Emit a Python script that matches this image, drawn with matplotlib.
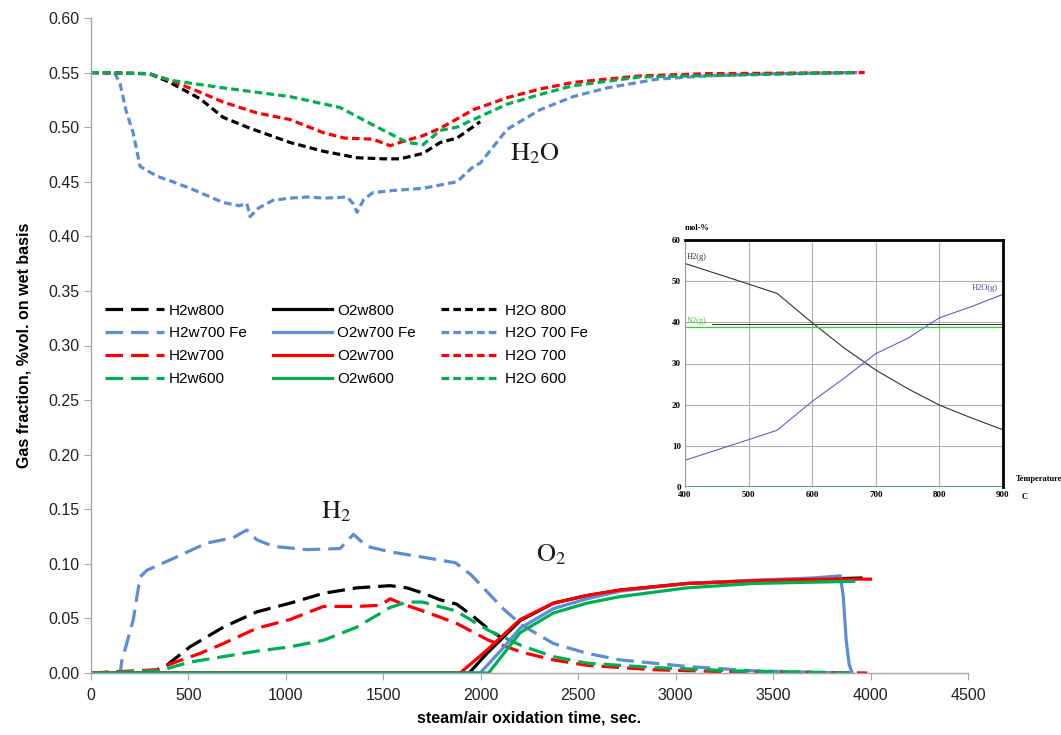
import matplotlib
matplotlib.use("Agg")
import matplotlib.pyplot as plt
import numpy as np

plt.rcParams['font.family'] = ['Liberation Sans', 'DejaVu Sans']
plt.rcParams['mathtext.fontset'] = 'stix'

# ---------------- main chart data ----------------
# H2O (steam) fraction curves
h2o800_x = [0, 300, 405, 560, 678, 816, 1021, 1190, 1365, 1500, 1586, 1704, 1792, 1878, 1997]
h2o800_y = [0.55, 0.549, 0.541, 0.526, 0.509, 0.499, 0.486, 0.478, 0.472, 0.471, 0.471, 0.476, 0.486, 0.490, 0.505]

h2o700fe_x = [0, 120, 149, 180, 216, 252, 339, 420, 508, 600, 678, 760, 800, 816, 860, 934, 1020, 1108, 1200, 1314,
              1345, 1365, 1400, 1447, 1550, 1704, 1878, 1962, 1997, 2135, 2305, 2474, 2649, 2905, 3162, 3501, 3932]
h2o700fe_y = [0.55, 0.55, 0.54, 0.515, 0.495, 0.464, 0.455, 0.450, 0.444, 0.437, 0.431, 0.428, 0.430, 0.418, 0.426, 0.433,
              0.435, 0.436, 0.435, 0.436, 0.430, 0.422, 0.434, 0.440, 0.442, 0.444, 0.450, 0.464, 0.467, 0.498, 0.516,
              0.528, 0.536, 0.544, 0.547, 0.549, 0.550]

h2o700_x = [0, 300, 405, 560, 678, 852, 1021, 1191, 1300, 1447, 1535, 1601, 1700, 1792, 1962, 2135, 2305, 2474, 2818, 3160, 3970]
h2o700_y = [0.55, 0.549, 0.543, 0.532, 0.523, 0.513, 0.507, 0.495, 0.490, 0.489, 0.483, 0.487, 0.492, 0.499, 0.516, 0.527,
            0.535, 0.541, 0.547, 0.549, 0.550]

h2o600_x = [0, 300, 405, 678, 1021, 1278, 1447, 1622, 1704, 1792, 1878, 1962, 2135, 2305, 2474, 2818, 3930]
h2o600_y = [0.55, 0.549, 0.543, 0.536, 0.528, 0.518, 0.502, 0.486, 0.484, 0.497, 0.500, 0.507, 0.521, 0.530, 0.538, 0.546, 0.550]

# H2 fraction curves
h2w800_x = [0, 330, 388, 508, 679, 851, 1022, 1193, 1364, 1535, 1621, 1706, 1792, 1877, 1960, 2048, 2100]
h2w800_y = [0.0, 0.002, 0.007, 0.024, 0.042, 0.056, 0.064, 0.073, 0.078, 0.080, 0.078, 0.073, 0.067, 0.063, 0.052, 0.039, 0.033]

h2w700fe_x = [0, 150, 157, 217, 252, 286, 423, 594, 730, 799, 851, 936, 1107, 1278, 1347, 1415, 1535, 1706, 1870, 1950,
              2040, 2120, 2210, 2373, 2546, 2716, 3059, 3398, 3896]
h2w700fe_y = [0.0, 0.0, 0.010, 0.049, 0.088, 0.094, 0.105, 0.119, 0.124, 0.131, 0.122, 0.116, 0.113, 0.114, 0.127, 0.116,
              0.111, 0.106, 0.101, 0.090, 0.073, 0.058, 0.044, 0.027, 0.018, 0.012, 0.006, 0.002, 0.0]

h2w700_x = [0, 337, 388, 560, 679, 851, 1022, 1107, 1193, 1364, 1484, 1535, 1587, 1700, 1870, 2040, 2210, 2373, 2546, 2885,
            3300, 3984]
h2w700_y = [0.0, 0.003, 0.007, 0.018, 0.027, 0.041, 0.049, 0.055, 0.061, 0.061, 0.062, 0.068, 0.064, 0.057, 0.046, 0.030,
            0.019, 0.012, 0.007, 0.003, 0.001, 0.0]

h2w600_x = [0, 337, 388, 508, 679, 851, 1022, 1193, 1364, 1535, 1621, 1700, 1870, 2040, 2210, 2373, 2546, 2885, 3300, 3896]
h2w600_y = [0.0, 0.002, 0.004, 0.010, 0.015, 0.020, 0.024, 0.030, 0.042, 0.060, 0.065, 0.065, 0.057, 0.039, 0.025, 0.015,
            0.009, 0.005, 0.002, 0.0]

# O2 fraction curves
o2w800_x = [0, 1940, 2032, 2202, 2373, 2545, 2716, 3059, 3398, 3742, 3950]
o2w800_y = [0.0, 0.0, 0.018, 0.048, 0.064, 0.071, 0.076, 0.082, 0.0845, 0.086, 0.087]

o2w700fe_x = [0, 1997, 2100, 2202, 2373, 2545, 2716, 3059, 3398, 3700, 3845, 3860, 3875, 3890, 3906]
o2w700fe_y = [0.0, 0.0, 0.020, 0.041, 0.059, 0.068, 0.075, 0.082, 0.085, 0.087, 0.089, 0.070, 0.030, 0.008, 0.0]

o2w700_x = [0, 1894, 2032, 2202, 2373, 2545, 2716, 3059, 3398, 3742, 3999]
o2w700_y = [0.0, 0.0, 0.021, 0.049, 0.064, 0.071, 0.076, 0.082, 0.0845, 0.086, 0.086]

o2w600_x = [0, 2040, 2110, 2202, 2373, 2545, 2716, 3059, 3398, 3914]
o2w600_y = [0.0, 0.0, 0.016, 0.037, 0.055, 0.064, 0.070, 0.078, 0.082, 0.084]

# ---------------- inset data ----------------
inset_T = [400, 500, 545, 600, 650, 700, 750, 800, 850, 900]
inset_h2 = [54.3, 49.3, 47.0, 39.9, 33.8, 28.4, 23.9, 19.9, 16.8, 13.9]
inset_h2o = [6.5, 11.5, 13.8, 20.8, 26.4, 32.4, 36.1, 41.1, 43.8, 46.8]
inset_n2 = 38.9
inset_xticks = [400, 500, 600, 700, 800, 900]
inset_yticks = [0, 10, 20, 30, 40, 50, 60]

# ---------------- styles ----------------
C_BLACK = '#000000'
C_BLUE = '#5B8ED6'
C_RED = '#FF0000'
C_GREEN = '#00B050'
LW = 2.3
LONG_DASH = (0, (5.5, 2.5))
SHORT_DASH = (0, (2.4, 1.3))

fig = plt.figure(figsize=(10.61, 7.35), dpi=100)
ax = fig.add_axes([91 / 1061, 1 - 673 / 735, (968 - 91) / 1061, (673 - 18) / 735])

lines = {}
lines['H2w800'] = ax.plot(h2w800_x, h2w800_y, color=C_BLACK, lw=LW, ls=LONG_DASH)[0]
lines['H2w700 Fe'] = ax.plot(h2w700fe_x, h2w700fe_y, color=C_BLUE, lw=LW, ls=LONG_DASH)[0]
lines['H2w700'] = ax.plot(h2w700_x, h2w700_y, color=C_RED, lw=LW, ls=LONG_DASH)[0]
lines['H2w600'] = ax.plot(h2w600_x, h2w600_y, color=C_GREEN, lw=LW, ls=LONG_DASH)[0]

lines['O2w800'] = ax.plot(o2w800_x, o2w800_y, color=C_BLACK, lw=LW, ls='-')[0]
lines['O2w700 Fe'] = ax.plot(o2w700fe_x, o2w700fe_y, color=C_BLUE, lw=LW, ls='-')[0]
lines['O2w700'] = ax.plot(o2w700_x, o2w700_y, color=C_RED, lw=LW, ls='-')[0]
lines['O2w600'] = ax.plot(o2w600_x, o2w600_y, color=C_GREEN, lw=LW, ls='-')[0]

lines['H2O 800'] = ax.plot(h2o800_x, h2o800_y, color=C_BLACK, lw=LW, ls=SHORT_DASH)[0]
lines['H2O 700 Fe'] = ax.plot(h2o700fe_x, h2o700fe_y, color=C_BLUE, lw=LW, ls=SHORT_DASH)[0]
lines['H2O 700'] = ax.plot(h2o700_x, h2o700_y, color=C_RED, lw=LW, ls=SHORT_DASH)[0]
lines['H2O 600'] = ax.plot(h2o600_x, h2o600_y, color=C_GREEN, lw=LW, ls=SHORT_DASH)[0]

ax.set_xlim(0, 4500)
ax.set_ylim(0, 0.60)
ax.set_xticks(np.arange(0, 4501, 500))
ax.set_yticks(np.arange(0, 0.601, 0.05))
ax.yaxis.set_major_formatter(matplotlib.ticker.FormatStrFormatter('%.2f'))
for s in ['top', 'right']:
    ax.spines[s].set_visible(False)
for s in ['left', 'bottom']:
    ax.spines[s].set_color('#A6A6A6')
    ax.spines[s].set_linewidth(1.0)
ax.tick_params(axis='both', direction='out', length=5, color='#A6A6A6', labelsize=11.5, labelcolor='#222222')
ax.tick_params(axis='x', pad=6)

ax.set_xlabel('steam/air oxidation time, sec.', fontsize=11.5, fontweight='bold', labelpad=5)
ax.set_ylabel('Gas fraction, %vol. on wet basis', fontsize=11.5, fontweight='bold', labelpad=12)

# legend arranged column-wise: column1 = H2, column2 = O2, column3 = H2O
col_order = ['H2w800', 'H2w700 Fe', 'H2w700', 'H2w600',
             'O2w800', 'O2w700 Fe', 'O2w700', 'O2w600',
             'H2O 800', 'H2O 700 Fe', 'H2O 700', 'H2O 600']
leg = ax.legend([lines[k] for k in col_order], col_order, ncol=3, loc='upper left',
                bbox_to_anchor=(0.0005, 0.585), frameon=False, fontsize=11,
                handlelength=3.85, handletextpad=0.33, columnspacing=1.7, labelspacing=0.58)

ax.text(2280, 0.476, r'$\mathrm{H_2O}$', fontsize=19, ha='center', va='center', color='#1a1a1a')
ax.text(1260, 0.148, r'$\mathrm{H_2}$', fontsize=19, ha='center', va='center', color='#1a1a1a')
ax.text(2360, 0.108, r'$\mathrm{O_2}$', fontsize=19, ha='center', va='center', color='#1a1a1a')

# ---------------- inset ----------------
ia = fig.add_axes([685 / 1061, 1 - 487 / 735, (1003 - 685) / 1061, (487 - 240) / 735])
ia.set_xlim(400, 900)
ia.set_ylim(0, 60)
ia.set_xticks(inset_xticks)
ia.set_yticks(inset_yticks)
ia.grid(True, color='#B0B0B0', lw=0.8)
ia.set_axisbelow(True)
ia.plot(inset_T, inset_h2, color='#333333', lw=0.8)
ia.plot(inset_T, inset_h2o, color='#6A5ACD', lw=0.8)
ia.axhline(inset_n2, color='#33CC33', lw=0.9)
ia.plot([442, 900], [39.7, 39.7], color='#333333', lw=0.7)
ia.axhline(0, color='#2A9D9D', lw=2.0)
ia.tick_params(length=0, labelsize=6.5, pad=3)
for lab in ia.get_xticklabels() + ia.get_yticklabels():
    lab.set_fontfamily('Liberation Serif')
    lab.set_fontweight('bold')
ia.spines['left'].set_color('#999999')
ia.spines['left'].set_linewidth(0.8)
ia.spines['bottom'].set_visible(False)
ia.spines['top'].set_color('black')
ia.spines['top'].set_linewidth(2.0)
ia.spines['right'].set_color('black')
ia.spines['right'].set_linewidth(2.0)
ia.text(402, 55.5, 'H2(g)', fontsize=6, family='Liberation Serif', color='#333333')
ia.text(851, 47.8, 'H2O(g)', fontsize=6, family='Liberation Serif', color='#4B3FB0')
ia.text(402, 39.8, 'N2(g)', fontsize=6, family='Liberation Serif', color='#33CC33')
ia.text(400, 62, 'mol-%', fontsize=6, family='Liberation Serif', fontweight='bold', ha='left', va='bottom')
ia.text(921, 1.0, 'Temperature', fontsize=6, family='Liberation Serif', fontweight='bold', ha='left', va='bottom')
ia.text(929, -1.5, 'C', fontsize=6, family='Liberation Serif', fontweight='bold', ha='left', va='top')

fig.savefig('out.png', dpi=100)
